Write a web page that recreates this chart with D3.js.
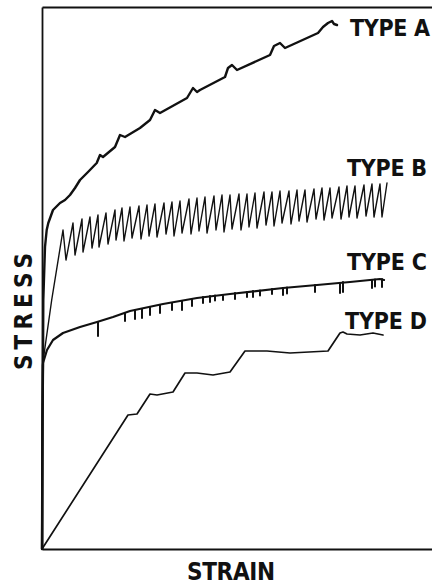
<!DOCTYPE html>
<html>
<head>
<meta charset="utf-8">
<script src="https://cdn.jsdelivr.net/npm/d3@7/dist/d3.min.js"></script>
<style>
  html, body { margin: 0; padding: 0; background: #fff; }
  svg { display: block; }
  .lbl { font-family: "Liberation Sans Narrow", "DejaVu Sans Condensed", "Liberation Sans", sans-serif; font-weight: bold; fill: #111; }
</style>
</head>
<body>
<svg id="chart" width="432" height="585"></svg>
<script>
// Stress–strain curves for four types of plastic flow (arbitrary units).
// Each series is a list of [strain, stress] readings.

const typeA = [
  [0, 0], [0.05, 12.9], [0.1, 18.6], [0.13, 24.9], [0.3, 30.2], [0.47, 31.9],
  [0.63, 32.6], [1.1, 33.9], [1.8, 34.6], [2.3, 34.9], [2.8, 35.4], [3.3, 36.1],
  [3.8, 36.9], [4.6, 37.7], [5.47, 38.6], [5.8, 39.4], [6.1, 39.2], [7.3, 40.2],
  [7.8, 41.4], [8.3, 41.2], [9.8, 42.1], [10.8, 42.9], [11.3, 43.9], [11.8, 43.6],
  [14.5, 45.1], [15.1, 46.1], [15.5, 45.7], [15.8, 45.9], [18.3, 47.2], [18.6, 48.1],
  [19.0, 48.4], [19.5, 47.9], [22.8, 49.4], [23.2, 50.3], [23.8, 50.6], [24.3, 50.1],
  [27.6, 51.6], [28.1, 52.2], [28.6, 52.6], [29.0, 52.8], [29.2, 52.5], [29.5, 52.4]
];

// Serrated flow: loading segments up to a peak, then sudden drops.
const typeB = [
  [0, 0], [0.05, 18.4], [0.97, 24.9],
  [2.1, 31.9], [2.4, 28.9], [3.1, 32.6], [3.3, 29.4], [4.0, 33.0], [4.1, 29.7],
  [4.8, 33.2], [5.0, 30.1], [5.6, 33.4], [5.7, 30.2], [6.4, 33.6], [6.6, 30.5],
  [7.3, 33.9], [7.4, 30.9], [8.0, 34.1], [8.2, 30.8], [8.8, 34.2], [9.0, 31.1],
  [9.7, 34.3], [9.9, 31.0], [10.5, 34.4], [10.7, 31.3], [11.3, 34.5], [11.5, 31.2],
  [12.2, 34.6], [12.4, 31.5], [13.0, 34.7], [13.2, 31.3], [13.8, 34.8], [14.0, 31.6],
  [14.7, 35.0], [14.9, 31.5], [15.5, 35.1], [15.7, 31.8], [16.3, 35.2], [16.5, 31.6],
  [17.2, 35.3], [17.4, 31.9], [18.0, 35.4], [18.2, 31.7], [18.8, 35.4], [19.0, 32.0],
  [19.7, 35.5], [19.9, 31.9], [20.5, 35.5], [20.7, 32.2], [21.3, 35.6], [21.5, 32.1],
  [22.2, 35.7], [22.4, 32.4], [23.0, 35.7], [23.2, 32.3], [23.8, 35.8], [24.0, 32.6],
  [24.7, 35.8], [24.9, 32.5], [25.5, 35.9], [25.7, 32.8], [26.3, 35.9], [26.5, 32.7],
  [27.2, 36.0], [27.4, 33.0], [28.0, 36.1], [28.2, 32.9], [28.8, 36.1], [29.0, 33.1],
  [29.7, 36.2], [29.9, 33.0], [30.5, 36.3], [30.7, 33.2], [31.3, 36.3], [31.5, 33.1],
  [32.2, 36.4], [32.4, 33.3], [33.0, 36.5], [33.2, 33.2], [33.8, 36.5], [34.0, 33.2],
  [34.5, 36.6]
];

// Smooth hardening curve for type C ...
const typeC = [
  [0, 0], [0.05, 12.9], [0.1, 18.6], [0.5, 19.9], [1.1, 20.9], [2.1, 21.6],
  [3.8, 22.2], [5.5, 22.7], [7.1, 23.2], [8.8, 23.8], [12.1, 24.5], [15.5, 25.1],
  [18.8, 25.5], [24.1, 26.1], [27.5, 26.4], [30.8, 26.7], [33.8, 27.0], [34.2, 26.9]
];
// ... and the short load drops on it: [strain, stress before drop, stress after drop]
const typeCDrops = [
  [5.6, 22.7, 21.3], [8.3, 23.6, 22.8], [9.3, 23.9, 23.0], [10.0, 24.0, 23.1],
  [10.8, 24.2, 23.4], [11.8, 24.4, 23.6], [13.0, 24.6, 23.9], [14.0, 24.8, 23.9],
  [15.0, 25.0, 24.3], [16.1, 25.2, 24.6], [16.8, 25.3, 24.7], [17.3, 25.35, 24.85],
  [18.1, 25.4, 24.9], [19.3, 25.6, 25.0], [20.5, 25.7, 25.2], [21.1, 25.8, 25.2],
  [21.8, 25.85, 25.35], [23.0, 26.0, 25.5], [24.1, 26.1, 25.4], [24.5, 26.15, 25.55],
  [27.3, 26.4, 25.7], [29.8, 26.6, 25.6], [30.1, 26.7, 25.7], [33.0, 26.9, 26.1],
  [33.3, 26.95, 26.25], [34.0, 27.0, 26.2]
];

// Stepwise flow for type D
const typeD = [
  [0, 0], [8.6, 13.4], [9.5, 13.5], [10.8, 15.5], [11.5, 15.4], [13.1, 15.7],
  [14.3, 17.6], [15.5, 17.6], [17.1, 17.4], [18.8, 17.7], [20.3, 19.8], [22.5, 19.8],
  [24.8, 19.6], [28.6, 19.8], [29.8, 21.6], [30.1, 21.7], [30.5, 21.5], [31.8, 21.4],
  [33.1, 21.6], [34.1, 21.4]
];

const typeLabels = ["TYPE A", "TYPE B", "TYPE C", "TYPE D"];
const axisLabels = { x: "STRAIN", y: "STRESS" };

const svg = d3.select("#chart");
const margin = { left: 42, right: 0, top: 7, bottom: 36 };
const W = 432, H = 585;

const x = d3.scaleLinear().domain([0, 39]).range([margin.left, W - margin.right]);
const y = d3.scaleLinear().domain([0, 54.2]).range([H - margin.bottom, margin.top]);

// Frame: left, bottom and top lines, no ticks
const frame = svg.append("g").attr("class", "frame");
frame.append("g")
  .attr("transform", `translate(0,${y(0)})`)
  .call(d3.axisBottom(x).tickValues([]).tickSizeOuter(0));
frame.append("g")
  .attr("transform", `translate(0,${y(54.2)})`)
  .call(d3.axisTop(x).tickValues([]).tickSizeOuter(0));
frame.append("g")
  .attr("transform", `translate(${x(0)},0)`)
  .call(d3.axisLeft(y).tickValues([]).tickSizeOuter(0));
frame.selectAll(".domain").attr("stroke", "#111").attr("stroke-width", 1.8);

const line = d3.line().x(d => x(d[0])).y(d => y(d[1]));

const curves = svg.append("g").attr("fill", "none").attr("stroke", "#111")
  .attr("stroke-linejoin", "round").attr("stroke-linecap", "round");

curves.append("path").datum(typeA).attr("d", line).attr("stroke-width", 2.4);
curves.append("path").datum(typeB).attr("d", line).attr("stroke-width", 1.4);
curves.append("path").datum(typeC).attr("d", line).attr("stroke-width", 2.2);
curves.selectAll("line.drop").data(typeCDrops).join("line")
  .attr("class", "drop")
  .attr("x1", d => x(d[0])).attr("x2", d => x(d[0]))
  .attr("y1", d => y(d[1])).attr("y2", d => y(d[2]))
  .attr("stroke-width", 2);
curves.append("path").datum(typeD).attr("d", line).attr("stroke-width", 1.7);

// Curve names at the right end of each curve
const labelPos = [
  { x: 350, y: 36, w: 80 },
  { x: 347, y: 176, w: 80 },
  { x: 347, y: 270, w: 80 },
  { x: 345, y: 329, w: 82 }
];
svg.selectAll("text.type").data(typeLabels).join("text")
  .attr("class", "lbl type")
  .attr("x", (d, i) => labelPos[i].x)
  .attr("y", (d, i) => labelPos[i].y)
  .attr("font-size", 23)
  .attr("textLength", (d, i) => labelPos[i].w)
  .attr("lengthAdjust", "spacing")
  .text(d => d);

svg.append("text").attr("class", "lbl")
  .attr("x", 187).attr("y", 580)
  .attr("font-size", 24)
  .attr("textLength", 88).attr("lengthAdjust", "spacing")
  .text(axisLabels.x);

svg.append("text").attr("class", "lbl")
  .attr("transform", "translate(32,370) rotate(-90)")
  .attr("font-size", 24)
  .attr("textLength", 117).attr("lengthAdjust", "spacing")
  .text(axisLabels.y);
</script>
</body>
</html>
